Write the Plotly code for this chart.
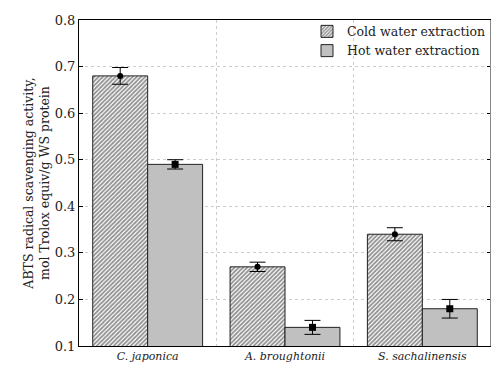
import plotly.graph_objects as go

categories = ["C. japonica", "A. broughtonii", "S. sachalinensis"]
cold_values = [0.68, 0.27, 0.34]
cold_errors = [0.018, 0.010, 0.014]
hot_values = [0.49, 0.14, 0.18]
hot_errors = [0.010, 0.015, 0.020]
y_ticks = [0.1, 0.2, 0.3, 0.4, 0.5, 0.6, 0.7, 0.8]

xpos = list(range(len(categories)))
font_family = "DejaVu Serif"

fig = go.Figure()
fig.add_trace(go.Bar(
    x=xpos, y=cold_values, name="Cold water extraction",
    marker=dict(color="white", line=dict(color="#222", width=1),
                pattern=dict(shape="/", fgcolor="#222", bgcolor="white", size=3, solidity=0.6)),
    offsetgroup="cold",
))
fig.add_trace(go.Bar(
    x=xpos, y=hot_values, name="Hot water extraction",
    marker=dict(color="#c0c0c0", line=dict(color="#222", width=1)),
    offsetgroup="hot",
))
fig.add_trace(go.Scatter(
    x=xpos, y=cold_values, mode="markers", showlegend=False,
    marker=dict(symbol="circle", size=6, color="black"),
    error_y=dict(type="data", array=cold_errors, color="black", thickness=1, width=8),
    offsetgroup="cold", cliponaxis=False,
))
fig.add_trace(go.Scatter(
    x=xpos, y=hot_values, mode="markers", showlegend=False,
    marker=dict(symbol="square", size=7, color="black"),
    error_y=dict(type="data", array=hot_errors, color="black", thickness=1, width=8),
    offsetgroup="hot", cliponaxis=False,
))

# page body has a default 8px margin, so the figure is sized to the remaining area
fig.update_layout(
    width=491, height=366,
    margin=dict(l=71, r=8, t=12, b=28),
    paper_bgcolor="white", plot_bgcolor="white",
    barmode="group", bargap=0.2, bargroupgap=0, scattermode="group",
    font=dict(family=font_family, color="#222"),
    showlegend=True,
    legend=dict(x=1.0, y=1.01, xanchor="right", yanchor="top", bgcolor="rgba(0,0,0,0)",
                font=dict(size=12.5, family=font_family), tracegroupgap=0,
                itemwidth=30, borderwidth=0),
    xaxis=dict(
        range=[-0.5, 2.5], tickvals=xpos, ticktext=categories,
        tickfont=dict(size=11, family=font_family, style="italic"),
        showgrid=False, zeroline=False, showline=True, linecolor="black", linewidth=1,
        mirror=True, ticks="", automargin=False,
        minor=dict(tickvals=[0.5, 1.5], showgrid=True, gridcolor="#cccccc",
                   griddash="dot", gridwidth=1, ticks=""),
    ),
    yaxis=dict(
        range=[0.1, 0.8], tickvals=y_ticks, tickformat=".1f",
        tickfont=dict(size=13, family=font_family),
        showgrid=True, gridcolor="#cccccc", griddash="dot", gridwidth=1,
        zeroline=False, showline=True, linecolor="black", linewidth=1,
        mirror="ticks", ticks="inside", ticklen=4, tickcolor="black", automargin=False,
        title=dict(text="ABTS radical scavenging activity,<br>mol Trolox equiv/g WS protein",
                   font=dict(size=12.5, family=font_family), standoff=2),
    ),
)
fig.add_shape(type="line", xref="paper", yref="paper", x0=1, x1=1, y0=0, y1=1,
              line=dict(color="#888", width=2))

fig.write_html("out.html")
